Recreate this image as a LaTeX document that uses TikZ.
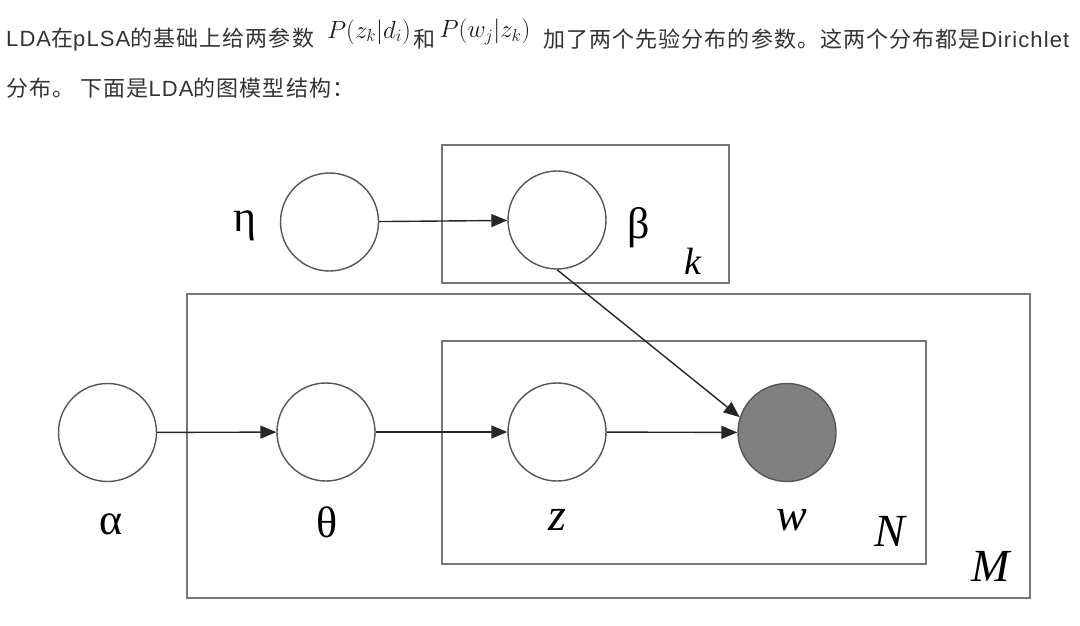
\documentclass[tikz,border=0pt]{standalone}
\usepackage{fontspec}
\usetikzlibrary{arrows.meta}
\newfontfamily\cjk[LetterSpace=5]{Noto Sans CJK SC}
\newfontfamily\lat[LetterSpace=5]{Liberation Sans}
\newfontfamily\tms{Liberation Serif}
\definecolor{txt}{HTML}{333333}
\definecolor{boxc}{HTML}{777777}
\definecolor{circc}{HTML}{555555}
\definecolor{obs}{HTML}{808080}
\tikzset{
  para/.style={inner sep=0pt, anchor=west, text=txt, font=\fontsize{22}{26}\selectfont},
  mth/.style={inner sep=0pt, text=black!90, font=\fontsize{26}{26}\selectfont},
  var/.style={circle, draw=circc, line width=1.4pt, minimum size=98pt, inner sep=0pt, fill=white},
  obsvar/.style={var, fill=obs},
  plate/.style={draw=boxc, line width=2pt},
  edge/.style={draw=black!85, line width=1.4pt, -{Triangle[length=16pt,width=13pt]}},
  glab/.style={inner sep=0pt, font=\tms\fontsize{44}{44}\selectfont},
  ilab/.style={inner sep=0pt, font=\tms\itshape\fontsize{46}{46}\selectfont}
}
\begin{document}
\begin{tikzpicture}[x=1pt,y=-1pt]
\useasboundingbox (0,0) rectangle (1080,626);
% text
\node[para] (t1) at (6,39) {\lat LDA\cjk 在\lat pLSA\cjk 的基础上给两参数};
\node[mth] (m1) at (369,32) {$P(z_k|d_i)$};
\node[para] (t2) at (413,39) {\cjk 和};
\node[mth] (m2) at (485,32) {$P(w_j|z_k)$};
\node[para] (t3) at (543,39) {\cjk 加了两个先验分布的参数。这两个分布都是\lat Dirichlet};
\node[para] (t4) at (6,88) {\cjk 分布。 下面是\lat LDA\cjk 的图模型结构：};
% plates
\draw[plate] (442,145) rectangle (729,283);
\draw[plate] (187,294) rectangle (1030,598);
\draw[plate] (442,341) rectangle (926,564);
% variables
\node[var] (eta) at (329.5,222) {};
\node[var] (beta) at (557,220) {};
\node[var] (alpha) at (107.5,432.5) {};
\node[var] (theta) at (326,432) {};
\node[var] (z) at (557,432) {};
\node[obsvar] (w) at (787,432.5) {};
% labels
\node[glab] (leta) at (245,226) {η};
\node[glab] (lbeta) at (639,228) {β};
\node[ilab, font=\tms\itshape\fontsize{38}{38}\selectfont] (lk) at (693,261) {k};
\node[glab] (lalpha) at (111,524) {α};
\node[glab] (ltheta) at (327,522) {θ};
\node[ilab] (lz) at (557,520) {z};
\node[ilab] (lw) at (792,520) {w};
\node[ilab] (lN) at (890,531) {N};
\node[ilab] (lM) at (991,566) {M};
% edges
\draw[edge] (eta) -- (beta);
\draw[edge] (alpha) -- (theta);
\draw[edge] (theta) -- (z);
\draw[edge] (z) -- (w);
\draw[edge] (beta.south) -- (w.162);
\end{tikzpicture}
\end{document}
